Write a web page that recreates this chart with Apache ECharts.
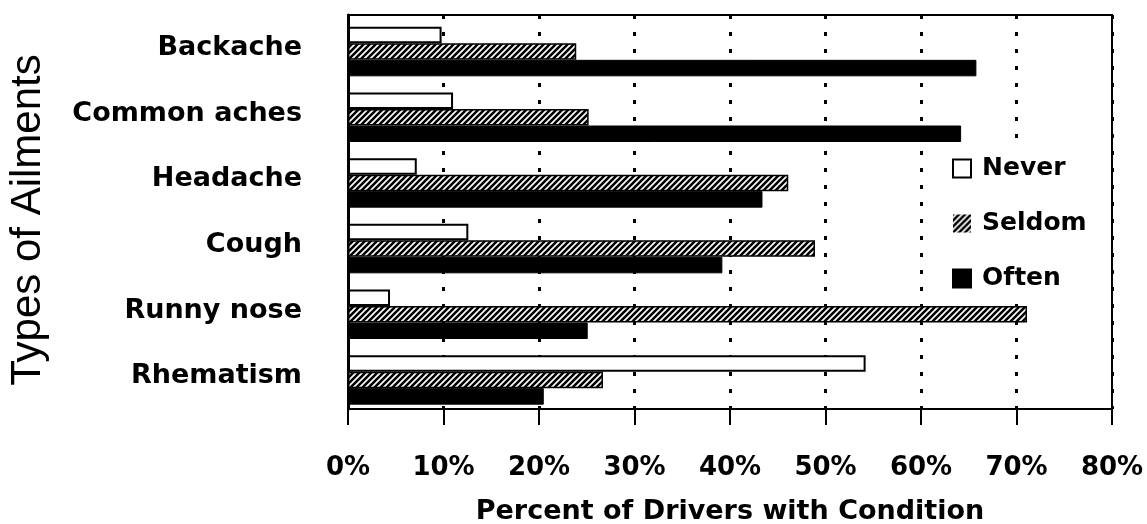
<!DOCTYPE html>
<html>
<head>
<meta charset="utf-8">
<title>Types of Ailments</title>
<script src="https://cdn.jsdelivr.net/npm/echarts@6/dist/echarts.min.js"></script>
<style>
  html, body { margin: 0; padding: 0; background: #fff; }
  #chart { width: 1147px; height: 524px; }
</style>
</head>
<body>
<div id="chart"></div>
<script>
// categories, top to bottom
var ailments = ['Backache', 'Common aches', 'Headache', 'Cough', 'Runny nose', 'Rhematism']
// percent of drivers per frequency
var never = [9.8, 11.0, 7.2, 12.6, 4.4, 54.2]
var seldom = [23.9, 25.2, 46.1, 48.9, 71.1, 26.7]
var often = [65.8, 64.2, 43.4, 39.2, 25.1, 20.5]
var xTicks = [0, 10, 20, 30, 40, 50, 60, 70, 80]
// empty slot above each group (the bars sit a little low in their band)
var spacer = [0, 0, 0, 0, 0, 0]

// diagonal hatch used for the "Seldom" bars
function makeHatch () {
  var c = document.createElement('canvas')
  c.width = 6
  c.height = 6
  var ctx = c.getContext('2d')
  ctx.fillStyle = '#fff'
  ctx.fillRect(0, 0, 6, 6)
  ctx.strokeStyle = '#000'
  ctx.lineWidth = 2.6
  ctx.beginPath()
  ctx.moveTo(-1, 7); ctx.lineTo(7, -1)
  ctx.moveTo(-4, 4); ctx.lineTo(4, -4)
  ctx.moveTo(2, 10); ctx.lineTo(10, 2)
  ctx.stroke()
  return c
}
var hatch = { image: makeHatch(), repeat: 'repeat' }

var boldFont = 'DejaVu Sans'
var chart = echarts.init(document.getElementById('chart'))

chart.setOption({
  animation: false,
  backgroundColor: '#fff',
  grid: {
    left: 348,
    right: 35,
    top: 15,
    bottom: 115,
    outerBoundsMode: 'none',
    show: true,
    borderColor: '#000',
    borderWidth: 2
  },
  legend: {
    orient: 'vertical',
    left: 942,
    top: 148,
    padding: [8, 10, 8, 10],
    backgroundColor: '#fff',
    icon: 'rect',
    itemWidth: 18,
    itemHeight: 18,
    itemGap: 30,
    textStyle: {
      fontFamily: boldFont, fontWeight: 'bold', fontSize: 25, color: '#000',
      padding: [0, 0, 0, 6]
    },
    data: [
      { name: 'Never' },
      { name: 'Seldom', itemStyle: { borderWidth: 0 } },
      { name: 'Often' }
    ]
  },
  xAxis: {
    type: 'value',
    min: 0,
    max: 80,
    interval: 10,
    name: 'Percent of Drivers with Condition',
    nameLocation: 'middle',
    nameGap: 89,
    nameTextStyle: { fontFamily: boldFont, fontWeight: 'bold', fontSize: 27, color: '#000' },
    axisLine: { show: true, lineStyle: { color: '#000', width: 2 } },
    axisTick: { show: true, length: 16, lineStyle: { color: '#000', width: 2 } },
    axisLabel: {
      margin: 46,
      fontFamily: boldFont,
      fontWeight: 'bold',
      fontSize: 26,
      color: '#000',
      formatter: function (v) { return xTicks.indexOf(v) >= 0 ? v + '%' : '' }
    },
    splitLine: {
      show: true,
      lineStyle: { color: '#000', width: 3, type: [4, 13] }
    }
  },
  yAxis: {
    type: 'category',
    inverse: true,
    data: ailments,
    name: 'Types of Ailments',
    nameLocation: 'middle',
    nameGap: 299,
    nameRotate: 90,
    nameTextStyle: {
      fontFamily: 'Liberation Sans', fontSize: 42, color: '#000',
      padding: [0, 16, 0, 0]
    },
    axisLine: { show: true, lineStyle: { color: '#000', width: 3 } },
    axisTick: { show: false },
    axisLabel: {
      margin: 46,
      fontFamily: boldFont,
      fontWeight: 'bold',
      fontSize: 27,
      color: '#000'
    }
  },
  series: [
    {
      name: 'spacer',
      type: 'bar',
      data: spacer,
      barWidth: 7.5,
      barGap: '0%',
      silent: true,
      itemStyle: { color: 'transparent' }
    },
    {
      name: 'Never',
      type: 'bar',
      data: never,
      barWidth: 16.5,
      barGap: '0%',
      itemStyle: { color: '#fff', borderColor: '#000', borderWidth: 2 }
    },
    {
      name: 'Seldom',
      type: 'bar',
      data: seldom,
      barWidth: 16.5,
      barGap: '0%',
      itemStyle: { color: hatch, borderColor: '#000', borderWidth: 1.5 }
    },
    {
      name: 'Often',
      type: 'bar',
      data: often,
      barWidth: 16.5,
      barGap: '0%',
      itemStyle: { color: '#000', borderColor: '#000', borderWidth: 1 }
    }
  ]
})
</script>
</body>
</html>
